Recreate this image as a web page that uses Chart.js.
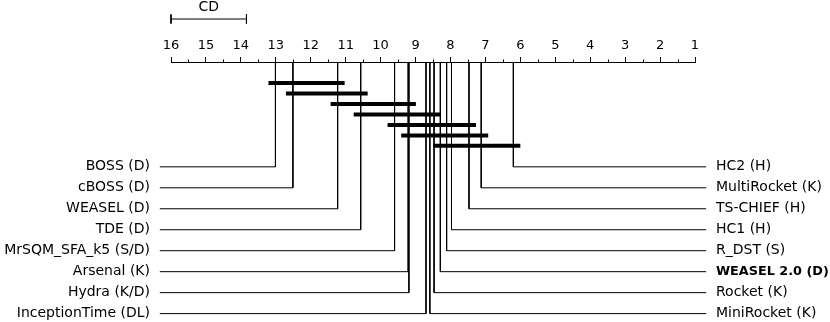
<!DOCTYPE html>
<html>
<head>
  <title>Critical Difference Diagram</title>
  <script src="https://cdn.jsdelivr.net/npm/chart.js"></script>
  <style>
    body { margin: 0; background: #fff; }
    .chart-container { width: 830px; height: 322px; position: relative; }
  </style>
</head>
<body>
  <div class="chart-container">
    <canvas id="myChart"></canvas>
  </div>
  <script>
    // average ranks, left side (worse) top to bottom
    const leftNames = ['BOSS (D)', 'cBOSS (D)', 'WEASEL (D)', 'TDE (D)', 'MrSQM_SFA_k5 (S/D)', 'Arsenal (K)', 'Hydra (K/D)', 'InceptionTime (DL)'];
    const leftRanks = [13.01, 12.51, 11.23, 10.57, 9.60, 9.21, 9.19, 8.70];
    // right side (better) top to bottom
    const rightNames = ['HC2 (H)', 'MultiRocket (K)', 'TS-CHIEF (H)', 'HC1 (H)', 'R_DST (S)', 'WEASEL 2.0 (D)', 'Rocket (K)', 'MiniRocket (K)'];
    const rightRanks = [6.20, 7.12, 7.47, 7.97, 8.11, 8.29, 8.47, 8.59];
    // cliques (groups not significantly different): from rank .. to rank
    const cliqueFrom = [13.01, 12.51, 11.23, 10.57, 9.60, 9.21, 8.29];
    const cliqueTo = [11.23, 10.57, 9.19, 8.47, 7.47, 7.12, 6.20];
    const cd = 2.16;
    const tickValues = [16, 15, 14, 13, 12, 11, 10, 9, 8, 7, 6, 5, 4, 3, 2, 1];
    const boldName = 'WEASEL 2.0 (D)';

    const FONT = 'DejaVu Sans';
    const EDGE_L = 16.32, EDGE_R = 0.68;   // where the label lines end
    const ROW0 = 5;                         // first label row (in y units)
    const CD_Y = -2.05;

    const datasets = [];
    leftRanks.forEach((r, i) => {
      datasets.push({ data: [{x: r, y: 0}, {x: r, y: ROW0 + i}, {x: EDGE_L, y: ROW0 + i}] });
    });
    rightRanks.forEach((r, i) => {
      datasets.push({ data: [{x: r, y: 0}, {x: r, y: ROW0 + i}, {x: EDGE_R, y: ROW0 + i}] });
    });
    cliqueFrom.forEach((f, j) => {
      datasets.push({ data: [{x: f + 0.2, y: 1 + 0.5 * j}, {x: cliqueTo[j] - 0.2, y: 1 + 0.5 * j}], borderWidth: 4 });
    });
    // CD bar with end caps
    datasets.push({ data: [{x: 16, y: CD_Y}, {x: 16 - cd, y: CD_Y}] });
    [16, 16 - cd].forEach(v => {
      datasets.push({ data: [{x: v, y: CD_Y - 0.22}, {x: v, y: CD_Y + 0.22}] });
    });
    datasets.forEach(d => {
      d.showLine = true;
      d.borderColor = '#000';
      d.borderWidth = d.borderWidth || 1;
      d.borderCapStyle = 'butt';
      d.pointRadius = 0;
      d.clip = false;
      d.tension = 0;
    });

    const extras = {
      id: 'extras',
      afterDraw(chart) {
        const c = chart.ctx, x = chart.scales.x, y = chart.scales.y;
        const axisY = chart.chartArea.top;
        c.save();
        c.strokeStyle = '#000';
        c.lineWidth = 1;
        for (let v = 1.5; v < 16; v += 1) {
          const px = Math.round(x.getPixelForValue(v)) + 0.5;
          c.beginPath();
          c.moveTo(px, axisY - 2.5);
          c.lineTo(px, axisY);
          c.stroke();
        }
        c.fillStyle = '#000';
        c.font = '14px ' + FONT;
        c.textAlign = 'center';
        c.textBaseline = 'middle';
        c.fillText('CD', x.getPixelForValue(16 - cd / 2), y.getPixelForValue(CD_Y) - 12);
        c.restore();
      }
    };

    const fitSide = w => s => {
      s.width = w;
      s.paddingTop = 0;
      s.paddingBottom = 0;
    };

    const ctx = document.getElementById('myChart').getContext('2d');
    new Chart(ctx, {
      type: 'scatter',
      data: { datasets: datasets },
      plugins: [extras],
      options: {
        responsive: true,
        maintainAspectRatio: false,
        animation: false,
        layout: { padding: 0 },
        plugins: { legend: { display: false }, tooltip: { enabled: false } },
        scales: {
          x: {
            type: 'linear',
            position: 'top',
            reverse: true,
            min: 1,
            max: 16,
            afterBuildTicks: s => { s.ticks = tickValues.map(v => ({ value: v })); },
            afterFit: s => { s.height = 62; s.paddingTop = 0; s.paddingBottom = 0; },
            grid: { drawOnChartArea: false, drawTicks: true, tickLength: 5, color: '#000', tickColor: '#000' },
            border: { display: true, color: '#000', width: 1 },
            ticks: { color: '#000', padding: 4, maxRotation: 0, font: { family: FONT, size: 13 } }
          },
          y: {
            type: 'linear',
            position: 'left',
            reverse: true,
            min: 0,
            max: 12.4,
            afterBuildTicks: s => { s.ticks = leftNames.map((_, i) => ({ value: ROW0 + i })); },
            afterFit: fitSide(171),
            grid: { display: false, drawTicks: false },
            border: { display: false },
            ticks: {
              color: '#000', padding: 21, autoSkip: false,
              font: { family: FONT, size: 14 },
              callback: v => leftNames[v - ROW0]
            }
          },
          yR: {
            type: 'linear',
            position: 'right',
            reverse: true,
            min: 0,
            max: 12.4,
            afterBuildTicks: s => { s.ticks = rightNames.map((_, i) => ({ value: ROW0 + i })); },
            afterFit: fitSide(135),
            grid: { display: false, drawTicks: false },
            border: { display: false },
            ticks: {
              color: '#000', padding: 21, autoSkip: false,
              font: c => rightNames[c.index] === boldName
                ? { family: FONT, size: 12.8, weight: 'bold' }
                : { family: FONT, size: 14, weight: 'normal' },
              callback: v => rightNames[v - ROW0]
            }
          }
        }
      }
    });
  </script>
</body>
</html>
